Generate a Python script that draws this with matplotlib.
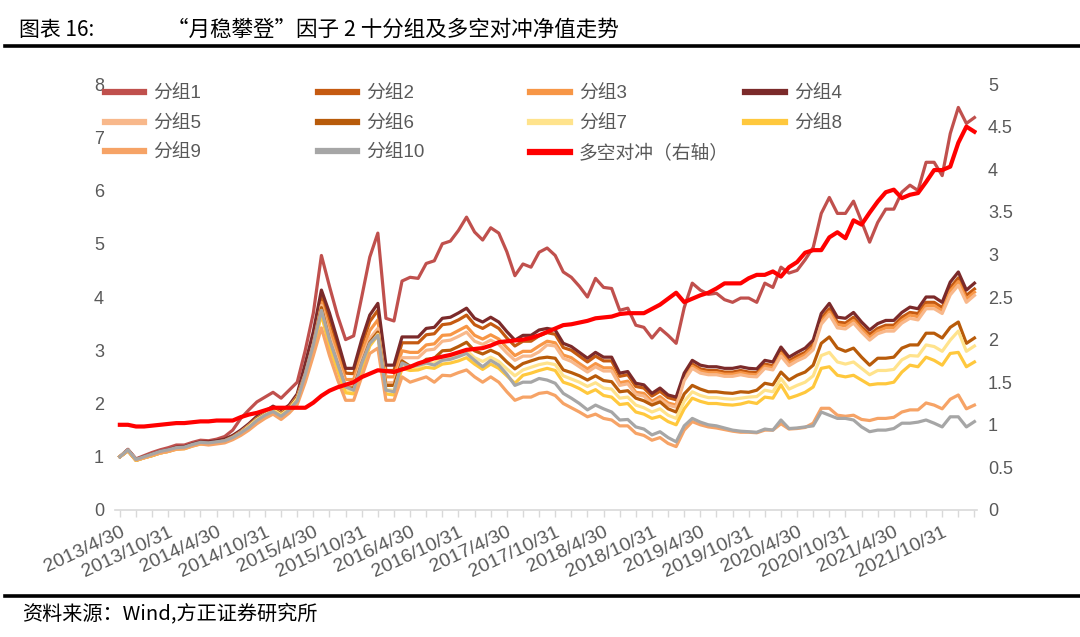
import matplotlib
matplotlib.use("Agg")
import matplotlib.pyplot as plt
from matplotlib.lines import Line2D
import matplotlib.transforms as mtransforms
import pandas as pd

plt.rcParams['font.family'] = ['Liberation Sans', 'Noto Sans CJK SC', 'DejaVu Sans']

# month-end dates 2013/4 .. 2022/2
dates = pd.date_range("2013-04-30", periods=107, freq="ME")
tick_labels = [f"{d.year}/{d.month}/{d.day}" for d in dates]

g1 = [1.00, 1.14, 0.96, 1.02, 1.08, 1.13, 1.17, 1.22, 1.22, 1.27,
      1.31, 1.30, 1.33, 1.38, 1.50, 1.72, 1.88, 2.03, 2.12, 2.21,
      2.10, 2.25, 2.40, 3.00, 3.70, 4.78, 4.20, 3.65, 3.20, 3.27,
      4.00, 4.75, 5.20, 3.60, 3.55, 4.30, 4.37, 4.35, 4.63, 4.68,
      5.00, 5.05, 5.25, 5.50, 5.22, 5.07, 5.30, 5.20, 4.85, 4.40,
      4.62, 4.56, 4.84, 4.92, 4.78, 4.47, 4.37, 4.20, 4.00, 4.35,
      4.18, 4.16, 3.75, 3.79, 3.47, 3.43, 3.23, 3.41, 3.28, 3.13,
      3.80, 4.26, 4.13, 4.05, 4.07, 3.95, 3.90, 3.98, 3.98, 3.90,
      4.26, 4.18, 4.56, 4.45, 4.50, 4.70, 4.93, 5.57, 5.87, 5.57,
      5.57, 5.80, 5.42, 5.03, 5.40, 5.65, 5.65, 5.97, 6.10, 6.00,
      6.53, 6.53, 6.28, 7.07, 7.56, 7.26, 7.37]
g2 = [1.00, 1.12, 0.95, 1.00, 1.05, 1.09, 1.12, 1.17, 1.18, 1.23,
      1.27, 1.27, 1.29, 1.32, 1.39, 1.48, 1.60, 1.74, 1.83, 1.93,
      1.84, 1.95, 2.15, 2.68, 3.25, 4.00, 3.58, 3.08, 2.57, 2.56,
      3.09, 3.54, 3.75, 2.62, 2.62, 3.14, 3.14, 3.14, 3.29, 3.31,
      3.48, 3.50, 3.57, 3.66, 3.48, 3.41, 3.50, 3.41, 3.23, 3.08,
      3.17, 3.17, 3.27, 3.33, 3.30, 3.05, 3.00, 2.89, 2.78, 2.89,
      2.80, 2.80, 2.51, 2.54, 2.32, 2.29, 2.14, 2.23, 2.11, 2.07,
      2.51, 2.74, 2.65, 2.62, 2.62, 2.59, 2.59, 2.62, 2.59, 2.58,
      2.74, 2.71, 2.98, 2.80, 2.89, 2.96, 3.11, 3.60, 3.78, 3.53,
      3.51, 3.62, 3.44, 3.30, 3.41, 3.47, 3.47, 3.62, 3.71, 3.69,
      3.90, 3.90, 3.80, 4.17, 4.36, 4.03, 4.15]
g3 = [1.00, 1.12, 0.94, 0.99, 1.04, 1.09, 1.12, 1.16, 1.17, 1.22,
      1.26, 1.26, 1.28, 1.31, 1.38, 1.47, 1.59, 1.73, 1.82, 1.92,
      1.83, 1.94, 2.14, 2.60, 3.17, 3.90, 3.40, 2.93, 2.45, 2.45,
      2.94, 3.37, 3.57, 2.50, 2.50, 2.99, 2.96, 2.96, 3.10, 3.12,
      3.28, 3.29, 3.37, 3.45, 3.28, 3.21, 3.29, 3.21, 3.05, 2.90,
      2.98, 2.98, 3.08, 3.17, 3.14, 2.91, 2.86, 2.75, 2.65, 2.75,
      2.67, 2.67, 2.39, 2.42, 2.21, 2.19, 2.04, 2.13, 2.01, 1.97,
      2.47, 2.70, 2.61, 2.58, 2.58, 2.55, 2.55, 2.58, 2.55, 2.54,
      2.70, 2.67, 2.94, 2.76, 2.84, 2.92, 3.06, 3.54, 3.72, 3.48,
      3.46, 3.56, 3.39, 3.24, 3.36, 3.42, 3.42, 3.56, 3.66, 3.63,
      3.84, 3.84, 3.74, 4.11, 4.29, 3.96, 4.09]
g4 = [1.00, 1.13, 0.95, 1.00, 1.05, 1.10, 1.13, 1.18, 1.19, 1.24,
      1.28, 1.28, 1.30, 1.33, 1.40, 1.50, 1.62, 1.76, 1.85, 1.95,
      1.86, 1.97, 2.18, 2.75, 3.35, 4.13, 3.70, 3.19, 2.66, 2.66,
      3.20, 3.66, 3.88, 2.72, 2.72, 3.25, 3.25, 3.25, 3.41, 3.43,
      3.60, 3.62, 3.70, 3.79, 3.60, 3.53, 3.62, 3.53, 3.35, 3.19,
      3.28, 3.28, 3.38, 3.41, 3.38, 3.13, 3.07, 2.96, 2.85, 2.96,
      2.87, 2.87, 2.57, 2.60, 2.38, 2.35, 2.19, 2.29, 2.16, 2.12,
      2.57, 2.81, 2.72, 2.69, 2.69, 2.66, 2.66, 2.69, 2.66, 2.65,
      2.81, 2.78, 3.06, 2.87, 2.96, 3.04, 3.19, 3.69, 3.88, 3.62,
      3.60, 3.71, 3.53, 3.38, 3.50, 3.56, 3.56, 3.71, 3.81, 3.78,
      4.00, 4.00, 3.90, 4.28, 4.47, 4.13, 4.26]
g5 = [1.00, 1.12, 0.94, 0.98, 1.03, 1.08, 1.11, 1.16, 1.17, 1.22,
      1.25, 1.25, 1.27, 1.30, 1.37, 1.47, 1.59, 1.72, 1.81, 1.91,
      1.82, 1.93, 2.13, 2.56, 3.12, 3.84, 3.26, 2.81, 2.34, 2.34,
      2.82, 3.22, 3.41, 2.39, 2.39, 2.86, 2.86, 2.86, 3.00, 3.02,
      3.17, 3.19, 3.26, 3.34, 3.17, 3.11, 3.19, 3.11, 2.95, 2.81,
      2.89, 2.89, 2.97, 3.10, 3.08, 2.85, 2.79, 2.69, 2.59, 2.69,
      2.61, 2.61, 2.34, 2.37, 2.17, 2.14, 1.99, 2.08, 1.97, 1.93,
      2.43, 2.66, 2.57, 2.54, 2.54, 2.51, 2.51, 2.54, 2.51, 2.50,
      2.66, 2.63, 2.89, 2.71, 2.80, 2.87, 3.01, 3.49, 3.67, 3.42,
      3.40, 3.51, 3.34, 3.19, 3.31, 3.36, 3.36, 3.51, 3.60, 3.57,
      3.78, 3.78, 3.69, 4.04, 4.22, 3.90, 4.03]
g6 = [1.00, 1.11, 0.93, 0.98, 1.02, 1.07, 1.10, 1.15, 1.16, 1.21,
      1.25, 1.25, 1.27, 1.30, 1.37, 1.46, 1.58, 1.72, 1.80, 1.90,
      1.81, 1.92, 2.12, 2.53, 3.08, 3.80, 3.18, 2.74, 2.29, 2.29,
      2.75, 3.15, 3.34, 2.34, 2.34, 2.80, 2.70, 2.70, 2.83, 2.85,
      2.99, 3.00, 3.07, 3.15, 2.99, 2.93, 3.00, 2.93, 2.78, 2.65,
      2.75, 2.80, 2.85, 2.87, 2.85, 2.63, 2.58, 2.52, 2.44, 2.52,
      2.43, 2.41, 2.22, 2.24, 2.10, 2.05, 1.97, 2.03, 1.90, 1.84,
      2.18, 2.34, 2.27, 2.22, 2.22, 2.20, 2.19, 2.22, 2.21, 2.25,
      2.38, 2.35, 2.59, 2.44, 2.53, 2.59, 2.72, 3.13, 3.25, 3.04,
      2.98, 3.04, 2.87, 2.72, 2.85, 2.85, 2.87, 3.04, 3.10, 3.10,
      3.32, 3.32, 3.23, 3.43, 3.53, 3.13, 3.23]
g7 = [1.00, 1.12, 0.94, 0.98, 1.03, 1.07, 1.10, 1.15, 1.16, 1.21,
      1.24, 1.24, 1.26, 1.29, 1.36, 1.45, 1.57, 1.70, 1.79, 1.88,
      1.79, 1.90, 2.09, 2.50, 3.04, 3.74, 3.10, 2.68, 2.25, 2.24,
      2.70, 3.10, 3.30, 2.26, 2.25, 2.73, 2.67, 2.67, 2.76, 2.76,
      2.87, 2.88, 2.93, 3.00, 2.86, 2.79, 2.87, 2.79, 2.65, 2.52,
      2.63, 2.68, 2.73, 2.76, 2.73, 2.52, 2.46, 2.40, 2.32, 2.39,
      2.29, 2.27, 2.10, 2.12, 1.97, 1.92, 1.84, 1.90, 1.78, 1.72,
      2.04, 2.22, 2.15, 2.11, 2.11, 2.09, 2.08, 2.10, 2.12, 2.13,
      2.25, 2.22, 2.47, 2.27, 2.34, 2.40, 2.52, 2.90, 2.96, 2.78,
      2.74, 2.78, 2.66, 2.54, 2.62, 2.62, 2.64, 2.82, 2.90, 2.89,
      3.10, 3.07, 2.98, 3.19, 3.36, 2.98, 3.08]
g8 = [1.00, 1.11, 0.93, 0.98, 1.02, 1.07, 1.10, 1.14, 1.15, 1.20,
      1.24, 1.24, 1.26, 1.28, 1.35, 1.44, 1.55, 1.68, 1.77, 1.86,
      1.77, 1.88, 2.06, 2.45, 3.00, 3.68, 3.05, 2.62, 2.20, 2.18,
      2.65, 3.08, 3.28, 2.18, 2.16, 2.66, 2.62, 2.63, 2.68, 2.66,
      2.74, 2.76, 2.80, 2.86, 2.74, 2.64, 2.74, 2.66, 2.52, 2.38,
      2.53, 2.57, 2.62, 2.66, 2.62, 2.40, 2.35, 2.28, 2.19, 2.26,
      2.15, 2.12, 1.98, 2.00, 1.84, 1.80, 1.72, 1.76, 1.66, 1.60,
      1.90, 2.10, 2.04, 2.00, 2.00, 1.98, 1.97, 1.99, 2.03, 2.00,
      2.12, 2.10, 2.35, 2.10, 2.15, 2.21, 2.31, 2.66, 2.69, 2.53,
      2.50, 2.53, 2.44, 2.35, 2.37, 2.37, 2.40, 2.59, 2.72, 2.69,
      2.87, 2.81, 2.72, 2.94, 2.96, 2.69, 2.78]
g9 = [1.00, 1.12, 0.94, 0.98, 1.03, 1.07, 1.10, 1.14, 1.15, 1.20,
      1.24, 1.22, 1.24, 1.26, 1.32, 1.40, 1.50, 1.62, 1.72, 1.80,
      1.70, 1.82, 1.98, 2.40, 2.90, 3.42, 2.90, 2.45, 2.06, 2.06,
      2.50, 2.94, 3.04, 2.06, 2.06, 2.50, 2.40, 2.45, 2.50, 2.40,
      2.53, 2.52, 2.58, 2.63, 2.50, 2.40, 2.50, 2.40, 2.22, 2.06,
      2.12, 2.12, 2.19, 2.21, 2.15, 2.00, 1.92, 1.84, 1.75, 1.80,
      1.72, 1.69, 1.58, 1.58, 1.44, 1.40, 1.31, 1.36, 1.25, 1.19,
      1.50, 1.66, 1.60, 1.56, 1.54, 1.51, 1.48, 1.46, 1.46, 1.45,
      1.50, 1.50, 1.62, 1.52, 1.53, 1.55, 1.63, 1.91, 1.91, 1.78,
      1.76, 1.78, 1.70, 1.68, 1.72, 1.72, 1.74, 1.84, 1.88, 1.88,
      2.01, 1.97, 1.90, 2.08, 2.16, 1.90, 1.97]
g10 = [1.00, 1.13, 0.95, 1.00, 1.05, 1.10, 1.13, 1.17, 1.18, 1.23,
       1.27, 1.26, 1.28, 1.30, 1.36, 1.45, 1.55, 1.68, 1.78, 1.85,
       1.76, 1.88, 2.05, 2.55, 3.10, 3.75, 3.20, 2.75, 2.31, 2.25,
       2.75, 3.13, 3.28, 2.25, 2.22, 2.76, 2.69, 2.72, 2.76, 2.72,
       2.81, 2.83, 2.88, 2.94, 2.81, 2.69, 2.81, 2.72, 2.55, 2.34,
       2.40, 2.40, 2.47, 2.44, 2.38, 2.19, 2.10, 2.00, 1.88, 1.97,
       1.90, 1.84, 1.69, 1.70, 1.56, 1.52, 1.41, 1.47, 1.36, 1.28,
       1.58, 1.72, 1.65, 1.60, 1.58, 1.54, 1.50, 1.48, 1.47, 1.46,
       1.52, 1.50, 1.69, 1.53, 1.54, 1.56, 1.58, 1.84, 1.78, 1.72,
       1.72, 1.69, 1.56, 1.47, 1.50, 1.50, 1.53, 1.63, 1.63, 1.65,
       1.69, 1.63, 1.56, 1.75, 1.75, 1.56, 1.66]
hedge = [1.00, 1.00, 0.98, 0.98, 0.99, 1.00, 1.01, 1.02, 1.02, 1.03,
         1.04, 1.04, 1.05, 1.05, 1.05, 1.09, 1.12, 1.14, 1.17, 1.20,
         1.20, 1.20, 1.20, 1.20, 1.26, 1.34, 1.40, 1.44, 1.47, 1.50,
         1.56, 1.60, 1.64, 1.63, 1.62, 1.65, 1.68, 1.72, 1.75, 1.78,
         1.80, 1.82, 1.85, 1.88, 1.89, 1.90, 1.93, 1.97, 1.98, 1.99,
         2.00, 2.02, 2.05, 2.09, 2.13, 2.17, 2.18, 2.20, 2.22, 2.25,
         2.26, 2.27, 2.30, 2.31, 2.31, 2.31, 2.36, 2.41, 2.48, 2.55,
         2.44, 2.48, 2.52, 2.55, 2.60, 2.66, 2.66, 2.66, 2.72, 2.76,
         2.76, 2.80, 2.74, 2.85, 2.91, 3.02, 3.05, 3.05, 3.20, 3.26,
         3.19, 3.40, 3.35, 3.49, 3.62, 3.73, 3.76, 3.66, 3.70, 3.72,
         3.85, 3.99, 3.99, 4.03, 4.31, 4.50, 4.44]

groups = [g1, g2, g3, g4, g5, g6, g7, g8, g9, g10]
names = [f"分组{k}" for k in range(1, 11)]
colors = ["#C0504D", "#C55A11", "#F79646", "#7B2A2A", "#F8B88B",
          "#B85B0A", "#FFE38C", "#FFC83D", "#F6A366", "#A6A6A6"]
hedge_color = "#FF0000"
grey = "#595959"
cjk = ["Noto Sans CJK SC", "DejaVu Sans"]

x = list(range(len(dates)))

fig = plt.figure(figsize=(10.8, 6.37), dpi=100)
ax = fig.add_axes([0.1065, 0.1994, 0.798, 0.6687])
ax2 = ax.twinx()

handles = []
for vals, name, c in zip(groups, names, colors):
    h, = ax.plot(x, vals, color=c, lw=2.3, label=name)
    handles.append(h)
h_hedge, = ax2.plot(x, hedge, color=hedge_color, lw=3.0, label="多空对冲（右轴）")

ax.set_xlim(-0.6, 106.3)
ax.set_ylim(0, 8)
ax2.set_ylim(0, 5)
ax.set_yticks(range(0, 9))
right_ticks = [i * 0.5 for i in range(11)]
ax2.set_yticks(right_ticks)
ax2.set_yticklabels([f"{v:g}" for v in right_ticks])

major = list(range(0, len(x), 6))
ax.set_xticks(major)
ax.set_xticks(range(0, len(x), 2), minor=True)
ax.set_xticklabels([tick_labels[i] for i in major],
                   rotation=25, ha="right", va="top", rotation_mode="anchor")
shift = mtransforms.ScaledTranslation(14 / 100, 0, fig.dpi_scale_trans)
for lab in ax.get_xticklabels():
    lab.set_transform(lab.get_transform() + shift)

for a in (ax, ax2):
    for s in a.spines.values():
        s.set_visible(False)
    a.tick_params(axis="y", length=0, labelsize=13, colors=grey, pad=8)
ax.spines["bottom"].set_visible(True)
ax.spines["bottom"].set_color("#D9D9D9")
ax.spines["bottom"].set_linewidth(1.2)
ax.tick_params(axis="x", which="both", length=5, width=1.0, color="#D9D9D9",
               labelsize=14, labelcolor=grey, pad=5)

# legend: four columns placed like the original
leg_lines = [
    [(handles[0], names[0]), (handles[4], names[4]), (handles[8], names[8])],
    [(handles[1], names[1]), (handles[5], names[5]), (handles[9], names[9])],
    [(handles[2], names[2]), (handles[6], names[6]), (h_hedge, "多空对冲（右轴）")],
    [(handles[3], names[3]), (handles[7], names[7])],
]
col_x = [0.097, 0.294, 0.491, 0.690]
for cx, col in zip(col_x, leg_lines):
    hs = [Line2D([], [], color=h.get_color(), lw=4.5) for h, _ in col]
    fig.legend(hs, [t for _, t in col], loc="upper left", bbox_to_anchor=(cx, 0.866),
               frameon=False, fontsize=13.5, labelcolor=grey, handlelength=2.1,
               handletextpad=0.5, labelspacing=0.67, borderaxespad=0, borderpad=0)

# header and footer
fig.text(0.018, 0.953, "图表 16:", fontsize=15, va="center", family=cjk)
fig.text(0.155, 0.953, "“月稳攀登”因子 2 十分组及多空对冲净值走势", fontsize=15.5,
         va="center", family=cjk)
fig.add_artist(Line2D([0.005, 1.0], [0.928, 0.928], color="black", lw=2.6,
                      transform=fig.transFigure))
fig.add_artist(Line2D([0.005, 1.0], [0.0645, 0.0645], color="black", lw=2.6,
                      transform=fig.transFigure))
fig.text(0.020, 0.035, "资料来源：Wind,方正证券研究所", fontsize=14.5, va="center",
         style="italic", family=cjk)

fig.savefig("out.png", dpi=100)
